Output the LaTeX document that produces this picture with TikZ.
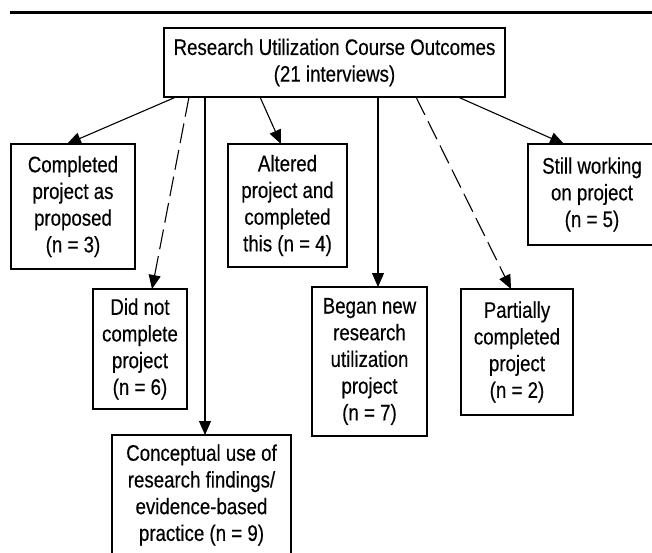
\documentclass[tikz,border=0pt]{standalone}
\usepackage{fontspec}
\setmainfont{Liberation Sans}[FakeStretch=0.83,FakeBold=0.35]
\usetikzlibrary{arrows.meta}
\begin{document}
\begin{tikzpicture}[x=1pt,y=-1pt,
  box/.style={draw, line width=1.3pt, inner sep=0pt, outer sep=0pt, align=center,
    font=\fontsize{22.5}{26.7}\selectfont},
  conn/.style={line width=1.1pt, -{Triangle[length=14pt,width=12pt]}},
  dashconn/.style={conn, dash pattern=on 20pt off 7pt}]
\useasboundingbox (0,0) rectangle (652,553);
\clip (0,0) rectangle (652,553);
\fill[white] (0,0) rectangle (652,553);
% top rule
\coordinate (ruleL) at (10,12.5);
\coordinate (ruleR) at (652,12.5);
\draw[line width=3pt] (ruleL) -- (ruleR);
% boxes
\node[box, minimum width=341pt, minimum height=69pt] (root) at (334.5,62.5)
  {Research Utilization Course Outcomes\\(21 interviews)};
\node[box, minimum width=124pt, minimum height=125pt] (cp) at (73,206.5)
  {Completed\\project as\\proposed\\(n = 3)};
\node[box, minimum width=94pt, minimum height=120pt] (dn) at (140,349)
  {Did not\\complete\\project\\(n = 6)};
\node[box, minimum width=179pt, minimum height=120pt] (cu) at (201.5,495)
  {Conceptual use of\\research findings/\\evidence-based\\practice (n = 9)};
\node[box, minimum width=119pt, minimum height=123pt] (al) at (287.5,205.5)
  {Altered\\project and\\completed\\this (n = 4)};
\node[box, minimum width=115pt, minimum height=149pt] (bg) at (369.5,361.5)
  {Began new\\research\\utilization\\project\\(n = 7)};
\node[box, minimum width=112pt, minimum height=126pt] (pc) at (517,352)
  {Partially\\completed\\project\\(n = 2)};
\node[box, minimum width=128pt, minimum height=101pt] (sw) at (592,194.5)
  {Still working\\on project\\(n = 5)};
% connectors
\draw[conn] ([xshift=12pt]root.south west) -- ([xshift=56pt]cp.north west);
\draw[dashconn] ([xshift=25pt]root.south west) -- ([xshift=59pt]dn.north west);
\draw[conn] ([xshift=41pt]root.south west) -- ([xshift=93pt]cu.north west);
\draw[conn] ([xshift=96pt]root.south west) -- ([xshift=53pt]al.north west);
\draw[conn] ([xshift=214pt]root.south west) -- ([xshift=66pt]bg.north west);
\draw[dashconn] ([xshift=252pt]root.south west) -- ([xshift=50pt]pc.north west);
\draw[conn] ([xshift=294pt]root.south west) -- ([xshift=36pt]sw.north west);
\end{tikzpicture}
\end{document}
